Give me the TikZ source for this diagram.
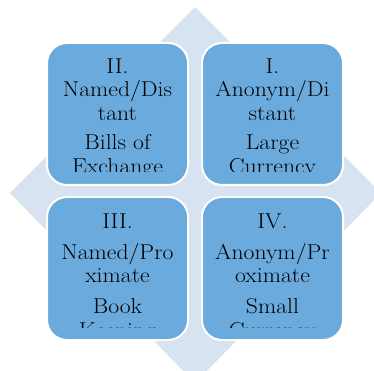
\documentclass[tikz,border=0pt]{standalone}
\definecolor{diamondblue}{HTML}{D7E3F1}
\definecolor{boxblue}{HTML}{6AAADD}
\newcommand{\wq}[1]{\scalebox{1.1}[1]{#1}}
\tikzset{
  quadbox/.style={fill=boxblue, draw=white, line width=2pt, rounded corners=20pt},
  qtext/.style={anchor=base, inner sep=0pt, font=\fontsize{21.5}{24}\selectfont, text=black}
}
\begin{document}
\begin{tikzpicture}[x=1pt,y=-1pt]
\useasboundingbox (0,0) rectangle (374,371);
% background diamond
\fill[diamondblue] (195,7) -- (381,193) -- (195,383) -- (10,193) -- cycle;
% boxes
\draw[quadbox] (47,43) rectangle (188,185);
\draw[quadbox] (202,43) rectangle (343,185);
\draw[quadbox] (47,197) rectangle (188,340);
\draw[quadbox] (202,197) rectangle (343,340);
% box II text
\begin{scope}
\clip (47,43) rectangle (188,172);
\node[qtext] (t2a) at (117.5,74) {\wq{II.}};
\node[qtext] (t2b) at (117.5,97) {\wq{Named/Dis}};
\node[qtext] (t2c) at (117.5,121) {\wq{tant}};
\node[qtext] (t2d) at (117.5,150) {\wq{Bills of}};
\node[qtext] (t2e) at (117.5,174) {\wq{Exchange}};
\end{scope}
% box I text
\begin{scope}
\clip (202,43) rectangle (343,172);
\node[qtext] (t1a) at (272.5,74) {\wq{I.}};
\node[qtext] (t1b) at (272.5,97) {\wq{Anonym/Di}};
\node[qtext] (t1c) at (272.5,121) {\wq{stant}};
\node[qtext] (t1d) at (272.5,150) {\wq{Large}};
\node[qtext] (t1e) at (272.5,174) {\wq{Currency}};
\end{scope}
% box III text
\begin{scope}
\clip (47,197) rectangle (188,327);
\node[qtext] (t3a) at (117.5,228) {\wq{III.}};
\node[qtext] (t3b) at (117.5,259) {\wq{Named/Pro}};
\node[qtext] (t3c) at (117.5,282) {\wq{ximate}};
\node[qtext] (t3d) at (117.5,313) {\wq{Book}};
\node[qtext] (t3e) at (117.5,337) {\wq{Keeping}};
\end{scope}
% box IV text
\begin{scope}
\clip (202,197) rectangle (343,327);
\node[qtext] (t4a) at (272.5,228) {\wq{IV.}};
\node[qtext] (t4b) at (272.5,259) {\wq{Anonym/Pr}};
\node[qtext] (t4c) at (272.5,282) {\wq{oximate}};
\node[qtext] (t4d) at (272.5,313) {\wq{Small}};
\node[qtext] (t4e) at (272.5,337) {\wq{Currency}};
\end{scope}
\end{tikzpicture}
\end{document}
